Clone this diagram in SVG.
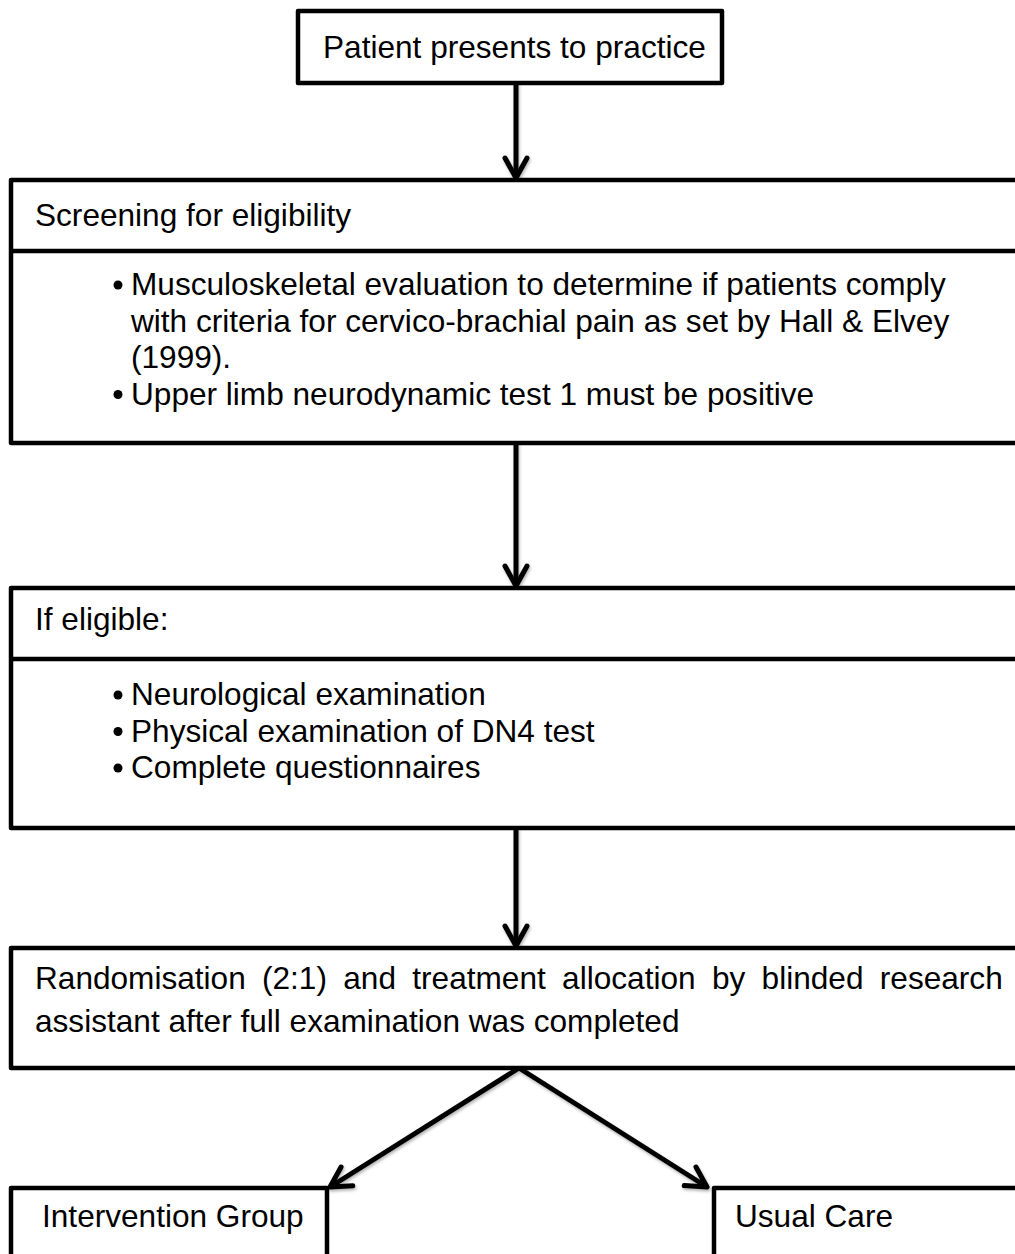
<svg xmlns="http://www.w3.org/2000/svg" width="1015" height="1254" viewBox="0 0 1015 1254">
<style>
  .box { fill: #ffffff; stroke: #000000; stroke-width: 4.5; stroke-linejoin: round; }
  .div { stroke: #000000; stroke-width: 4.5; fill: none; }
  .t { font-family: "Liberation Sans", Arial, sans-serif; font-size: 31.6px; fill: #000000; }
  .conn { stroke: #000000; stroke-width: 5; fill: none; }
  .dot { fill: #000000; }
</style>
<defs>
  <filter id="sh" filterUnits="userSpaceOnUse" x="0" y="0" width="1015" height="1254">
    <feDropShadow dx="1" dy="2" stdDeviation="1.5" flood-color="#000" flood-opacity="0.3"/>
  </filter>
  <marker id="arr" markerUnits="userSpaceOnUse" viewBox="-26 -16 32 32" markerWidth="32" markerHeight="32" refX="0" refY="0" orient="auto" overflow="visible">
    <path d="M-20,-11 L0,0 L-20,11" fill="none" stroke="#000" stroke-width="5" stroke-linecap="round" stroke-linejoin="round"/>
  </marker>
</defs>

<g id="connectors" filter="url(#sh)">
  <line class="conn" x1="516" y1="83" x2="516" y2="178" marker-end="url(#arr)"/>
  <line class="conn" x1="516" y1="443" x2="516" y2="586" marker-end="url(#arr)"/>
  <line class="conn" x1="516" y1="828" x2="516" y2="946" marker-end="url(#arr)"/>
  <line class="conn" x1="519" y1="1068" x2="330" y2="1187" marker-end="url(#arr)"/>
  <line class="conn" x1="519" y1="1068" x2="707" y2="1187" marker-end="url(#arr)"/>
</g>

<g id="node-patient">
  <rect class="box" x="298" y="11" width="424" height="72"/>
  <text class="t" x="323" y="58">Patient presents to practice</text>
</g>

<g id="node-screening">
  <rect class="box" x="11" y="180" width="1030" height="263"/>
  <line class="div" x1="11" y1="251" x2="1030" y2="251"/>
  <text class="t" x="35" y="226">Screening for eligibility</text>
  <circle class="dot" cx="118" cy="285" r="4.5"/>
  <text class="t" x="131" y="295">Musculoskeletal evaluation to determine if patients comply</text>
  <text class="t" x="131" y="331.5">with criteria for cervico-brachial pain as set by Hall &amp; Elvey</text>
  <text class="t" x="131" y="368">(1999).</text>
  <circle class="dot" cx="118" cy="394.5" r="4.5"/>
  <text class="t" x="131" y="404.5">Upper limb neurodynamic test 1 must be positive</text>
</g>

<g id="node-eligible">
  <rect class="box" x="11" y="588" width="1030" height="240"/>
  <line class="div" x1="11" y1="659" x2="1030" y2="659"/>
  <text class="t" x="35" y="630">If eligible:</text>
  <circle class="dot" cx="118" cy="695" r="4.5"/>
  <text class="t" x="131" y="705">Neurological examination</text>
  <circle class="dot" cx="118" cy="731.5" r="4.5"/>
  <text class="t" x="131" y="741.5">Physical examination of DN4 test</text>
  <circle class="dot" cx="118" cy="768" r="4.5"/>
  <text class="t" x="131" y="778">Complete questionnaires</text>
</g>

<g id="node-randomisation">
  <rect class="box" x="11" y="948" width="1030" height="120"/>
  <text class="t" y="989"><tspan x="35">Randomisation</tspan><tspan x="262">(2:1)</tspan><tspan x="343.3">and</tspan><tspan x="412.3">treatment</tspan><tspan x="562.1">allocation</tspan><tspan x="711.9">by</tspan><tspan x="761.6">blinded</tspan><tspan x="879.8">research</tspan></text>
  <text class="t" x="35" y="1032">assistant after full examination was completed</text>
</g>

<g id="node-intervention">
  <rect class="box" x="11" y="1188" width="316" height="90"/>
  <text class="t" x="42" y="1227">Intervention Group</text>
</g>

<g id="node-usualcare">
  <rect class="box" x="714" y="1188" width="330" height="90"/>
  <text class="t" x="735" y="1227">Usual Care</text>
</g>
</svg>
